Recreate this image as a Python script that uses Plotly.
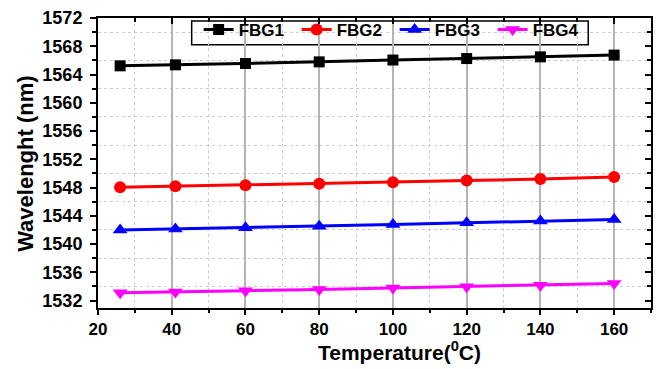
import plotly.graph_objects as go

temperature = [26, 41, 60, 80, 100, 120, 140, 160]
fbg1 = [1565.23, 1565.37, 1565.56, 1565.79, 1566.05, 1566.26, 1566.5, 1566.75]
fbg2 = [1548.05, 1548.19, 1548.33, 1548.55, 1548.75, 1548.99, 1549.21, 1549.48]
fbg3 = [1541.99, 1542.13, 1542.31, 1542.53, 1542.77, 1543.01, 1543.25, 1543.47]
fbg4 = [1533.11, 1533.2, 1533.39, 1533.58, 1533.77, 1533.95, 1534.18, 1534.42]

series = [
    ("FBG1", fbg1, "#000000", "square", 11),
    ("FBG2", fbg2, "#ff0000", "circle", 12),
    ("FBG3", fbg3, "#0000ff", "triangle-up", 13),
    ("FBG4", fbg4, "#ff00ff", "triangle-down", 13),
]

x_title = "Temperature(<sup>0</sup>C)"
y_title = "Wavelenght (nm)"

XR = [20, 170]
YR = [1530.95, 1572]
FONT = "Liberation Sans, Arial, sans-serif"

fig = go.Figure()
for name, vals, col, sym, sz in series:
    fig.add_trace(go.Scatter(
        x=temperature, y=vals, name=name, mode="lines+markers",
        line=dict(color=col, width=3),
        marker=dict(symbol=sym, size=sz, color=col),
    ))

# dummy trace to carry mirrored (inward) ticks on top/right
fig.add_trace(go.Scatter(x=[None], y=[None], xaxis="x2", yaxis="y2",
                         showlegend=False, hoverinfo="skip"))

fig.update_layout(
    width=661, height=369,
    margin=dict(l=98, r=8, t=15, b=61),
    plot_bgcolor="white", paper_bgcolor="white",
    font=dict(family=FONT, color="black"),
    showlegend=True,
    legend=dict(
        orientation="h", x=0.182, y=0.959, xanchor="left", yanchor="middle",
        bgcolor="rgba(0,0,0,0)", borderwidth=0,
        font=dict(family=FONT, size=17, color="black", weight="bold"),
        entrywidth=53, entrywidthmode="pixels", itemwidth=30,
        tracegroupgap=0,
    ),
    shapes=[dict(type="rect", xref="paper", yref="paper",
                 x0=0.1694, x1=0.8865, y0=0.908, y1=0.990,
                 fillcolor="white", line=dict(color="black", width=1.5),
                 layer="between")],
    annotations=[
        dict(text=x_title, xref="paper", yref="paper", x=0.546, y=-0.149,
             xanchor="center", yanchor="middle", showarrow=False,
             font=dict(family=FONT, size=21, color="black", weight="bold")),
        dict(text=y_title, xref="paper", yref="paper", x=-0.1315, y=0.498,
             xanchor="center", yanchor="middle", showarrow=False, textangle=-90,
             font=dict(family=FONT, size=22, color="black", weight="bold")),
    ],
    xaxis=dict(
        range=XR, tickmode="linear", tick0=20, dtick=20,
        showline=True, linecolor="black", linewidth=2, mirror=True,
        ticks="outside", ticklen=5, tickwidth=2, tickcolor="black",
        tickfont=dict(family=FONT, size=17, color="black", weight="bold"),
        showgrid=True, gridcolor="#b4b4b4", gridwidth=1.5,
        zeroline=False,
        minor=dict(tick0=30, dtick=20, ticks="outside", ticklen=3,
                   tickwidth=2, tickcolor="black", showgrid=True,
                   gridcolor="#cccccc", gridwidth=1, griddash="dot"),
    ),
    yaxis=dict(
        range=YR, tickmode="linear", tick0=1532, dtick=4,
        showline=True, linecolor="black", linewidth=2, mirror=True,
        ticks="outside", ticklen=6, tickwidth=2, tickcolor="black",
        ticklabelstandoff=4,
        tickfont=dict(family=FONT, size=18, color="black", weight="bold"),
        showgrid=False, zeroline=False,
        minor=dict(tick0=1534, dtick=4, ticks="outside", ticklen=4,
                   tickwidth=2, tickcolor="black", showgrid=True,
                   gridcolor="#cccccc", gridwidth=1, griddash="dot"),
    ),
    xaxis2=dict(
        range=XR, overlaying="x", side="top", anchor="y2",
        tickmode="linear", tick0=20, dtick=20,
        ticks="inside", ticklen=6, tickwidth=2, tickcolor="black",
        showticklabels=False, showgrid=False, showline=False, zeroline=False,
        minor=dict(tick0=30, dtick=20, ticks="inside", ticklen=4,
                   tickwidth=2, tickcolor="black", showgrid=False),
    ),
    yaxis2=dict(
        range=YR, overlaying="y", side="right", anchor="x2",
        tickmode="linear", tick0=1532, dtick=4,
        ticks="inside", ticklen=6, tickwidth=2, tickcolor="black",
        showticklabels=False, showgrid=False, showline=False, zeroline=False,
        minor=dict(tick0=1534, dtick=4, ticks="inside", ticklen=4,
                   tickwidth=2, tickcolor="black", showgrid=False),
    ),
)

fig.write_html("out.html")
